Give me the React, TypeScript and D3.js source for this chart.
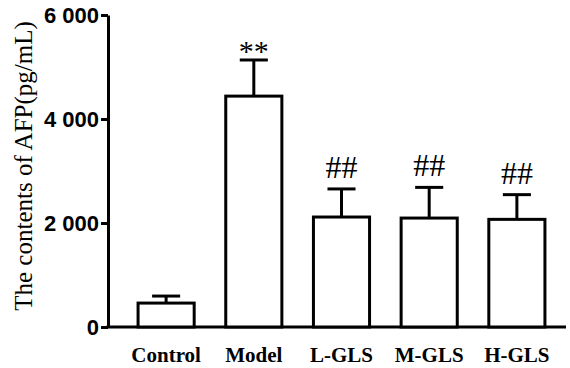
import React, { useEffect, useRef } from 'react';
import * as d3 from 'd3';

const groups = ['Control', 'Model', 'L-GLS', 'M-GLS', 'H-GLS'];
const means = [460, 4440, 2115, 2095, 2070];
const errors = [135, 695, 540, 590, 475];
const marks = ['', '**', '##', '##', '##'];
const yTicks = [0, 2000, 4000, 6000];

function App() {
  const ref = useRef<SVGSVGElement>(null);

  useEffect(() => {
    drawChart();
  }, []);

  function drawChart() {
    const width = 570;
    const height = 368;
    const svg = d3.select(ref.current).html('')
      .attr('width', width)
      .attr('height', height);

    const y = d3.scaleLinear().domain([0, 6000]).range([327, 15]);
    const x = d3.scaleBand().domain(groups).range([110, 573])
      .paddingInner(0.36).paddingOuter(0.32);
    const axisX = 108;
    const axisEnd = 566;

    const fmt = d3.formatLocale({ decimal: '.', thousands: ' ', grouping: [3], currency: ['', ''] }).format(',d');

    // y axis
    const ya = svg.append('g')
      .attr('transform', 'translate(' + axisX + ',0)')
      .call(d3.axisLeft(y).tickValues(yTicks).tickSize(7).tickSizeOuter(0).tickPadding(2).tickFormat(d => fmt(d as number)));
    ya.select('.domain').attr('stroke', '#000').attr('stroke-width', 3);
    ya.selectAll('.tick line').attr('stroke', '#000').attr('stroke-width', 3);
    ya.selectAll('.tick text')
      .attr('fill', '#000')
      .style('font-family', '"Liberation Sans", Arial, sans-serif')
      .style('font-weight', 'bold')
      .style('font-size', '22px');

    // x axis line
    svg.append('line')
      .attr('x1', axisX - 1.5).attr('x2', axisEnd)
      .attr('y1', y(0)).attr('y2', y(0))
      .attr('stroke', '#000').attr('stroke-width', 3);

    // bars
    svg.append('g').selectAll('rect')
      .data(groups)
      .join('rect')
      .attr('x', d => x(d)!)
      .attr('y', (d, i) => y(means[i]))
      .attr('width', x.bandwidth())
      .attr('height', (d, i) => y(0) - y(means[i]))
      .attr('fill', '#fff')
      .attr('stroke', '#000')
      .attr('stroke-width', 3);

    // error bars
    const eb = svg.append('g').attr('stroke', '#000').attr('stroke-width', 3);
    groups.forEach((g, i) => {
      const cx = x(g)! + x.bandwidth() / 2;
      eb.append('line')
        .attr('x1', cx).attr('x2', cx)
        .attr('y1', y(means[i])).attr('y2', y(means[i] + errors[i]));
      eb.append('line')
        .attr('x1', cx - x.bandwidth() / 4).attr('x2', cx + x.bandwidth() / 4)
        .attr('y1', y(means[i] + errors[i])).attr('y2', y(means[i] + errors[i]));
    });

    // significance marks
    svg.append('g').selectAll('text')
      .data(groups)
      .join('text')
      .attr('x', d => x(d)! + x.bandwidth() / 2)
      .attr('y', (d, i) => y(means[i] + errors[i]) + (marks[i] === '**' ? 1 : -11))
      .attr('text-anchor', 'middle')
      .style('font-family', '"Liberation Serif", "Times New Roman", serif')
      .style('font-size', (d, i) => marks[i] === '**' ? '30px' : '32px')
      .text((d, i) => marks[i]);

    // x labels
    svg.append('g').selectAll('text')
      .data(groups)
      .join('text')
      .attr('x', d => x(d)! + x.bandwidth() / 2)
      .attr('y', 362)
      .attr('text-anchor', 'middle')
      .style('font-family', '"Liberation Serif", "Times New Roman", serif')
      .style('font-weight', 'bold')
      .style('font-size', '21px')
      .text(d => d);

    // y title
    svg.append('text')
      .attr('transform', 'translate(32,' + ((15 + 327) / 2 - 5) + ') rotate(-90)')
      .attr('text-anchor', 'middle')
      .style('font-family', '"Liberation Serif", "Times New Roman", serif')
      .style('font-size', '25px')
      .text('The contents of AFP(pg/mL)');
  }

  return (
    <div style={{ position: 'absolute', left: 0, top: 0, background: '#fff' }}>
      <svg ref={ref} style={{ display: 'block' }}></svg>
    </div>
  );
}

export default App;
